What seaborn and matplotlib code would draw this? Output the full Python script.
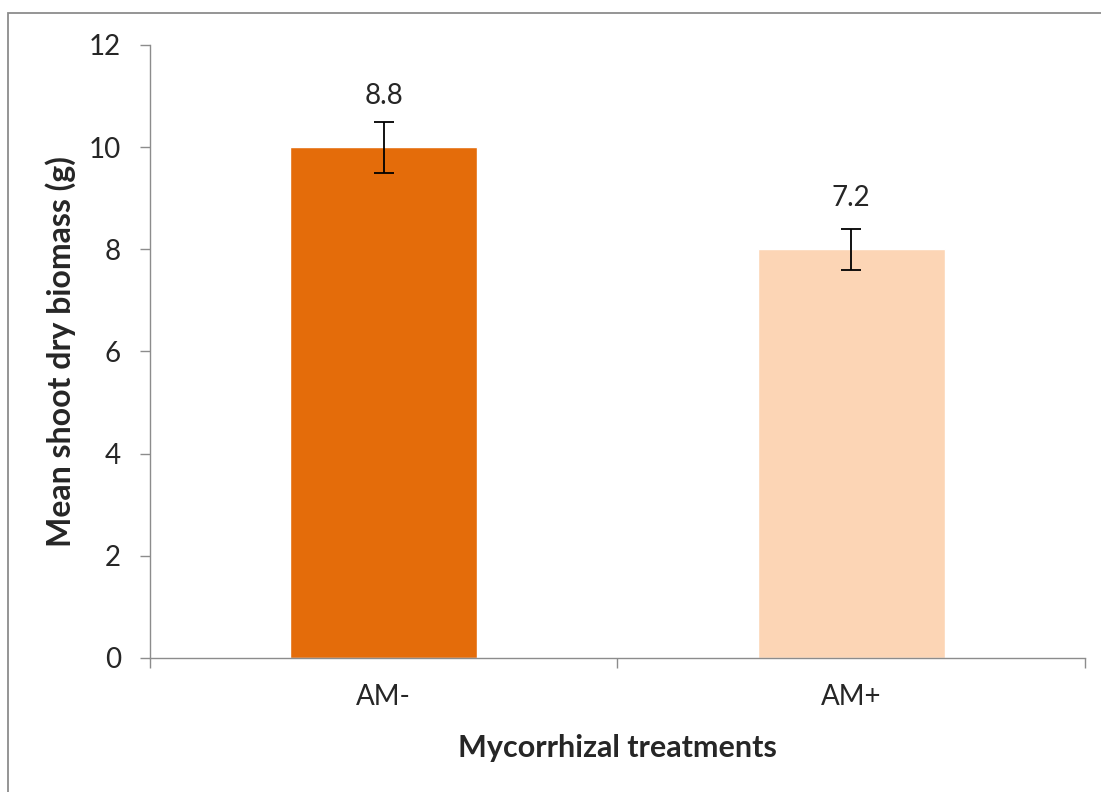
import numpy as np
import pandas as pd
import matplotlib.pyplot as plt
import seaborn as sns
from matplotlib.patches import Rectangle

# values
treatments = ["AM-", "AM+"]
biomass = [10.0, 8.0]
errors = [0.5, 0.4]
labels = ["8.8", "7.2"]
colors = ["#E46C0A", "#FCD5B5"]

sns.set_style("white")
plt.rcParams['font.family'] = ['Lato', 'DejaVu Sans']

df = pd.DataFrame({"treatment": treatments, "biomass": biomass})

fig = plt.figure(figsize=(11.01, 7.92), dpi=100)
ax = fig.add_axes([0.1362, 0.1692, 0.8493, 0.774])

sns.barplot(data=df, x="treatment", y="biomass", hue="treatment",
            palette=colors, width=0.4, errorbar=None, legend=False,
            saturation=1, ax=ax)

pos = np.arange(len(treatments))
ax.errorbar(pos, biomass, yerr=errors, fmt="none", ecolor="black",
            elinewidth=1.3, capsize=7, capthick=1.3)

# data labels above the bars
for x, y, txt in zip(pos, biomass, labels):
    ax.annotate(txt, (x, y), xytext=(0, 37), textcoords="offset points",
                ha="center", va="center", fontsize=20)

ax.set_ylim(0, 12)
ax.set_yticks(range(0, 13, 2))
ax.set_xlim(-0.5, len(treatments) - 0.5)
ax.set_xticks(np.arange(-0.5, len(treatments), 1.0), minor=True)

spine_col = "#8C8C8C"
for side in ["top", "right"]:
    ax.spines[side].set_visible(False)
for side in ["left", "bottom"]:
    ax.spines[side].set_color(spine_col)
    ax.spines[side].set_linewidth(1.0)

ax.tick_params(axis="y", direction="out", length=7, width=1.0,
               color=spine_col, labelsize=20, pad=14, left=True)
ax.tick_params(axis="x", which="major", length=0, labelsize=20, pad=19)
ax.tick_params(axis="x", which="minor", direction="out", length=7,
               width=1.0, color=spine_col, bottom=True)

ax.set_xlabel("Mycorrhizal treatments", fontsize=22, fontweight="bold",
              labelpad=17)
ax.set_ylabel("Mean shoot dry biomass (g)", fontsize=23, fontweight="bold",
              labelpad=9)

# chart-area border like the original export
fig.patches.append(Rectangle((8 / 1101, -0.05), 1.1, 0.05 + 1 - 13 / 792,
                             transform=fig.transFigure, fill=False,
                             edgecolor="#8C8C8C", linewidth=1.3))

fig.savefig("out.png", dpi=100)
